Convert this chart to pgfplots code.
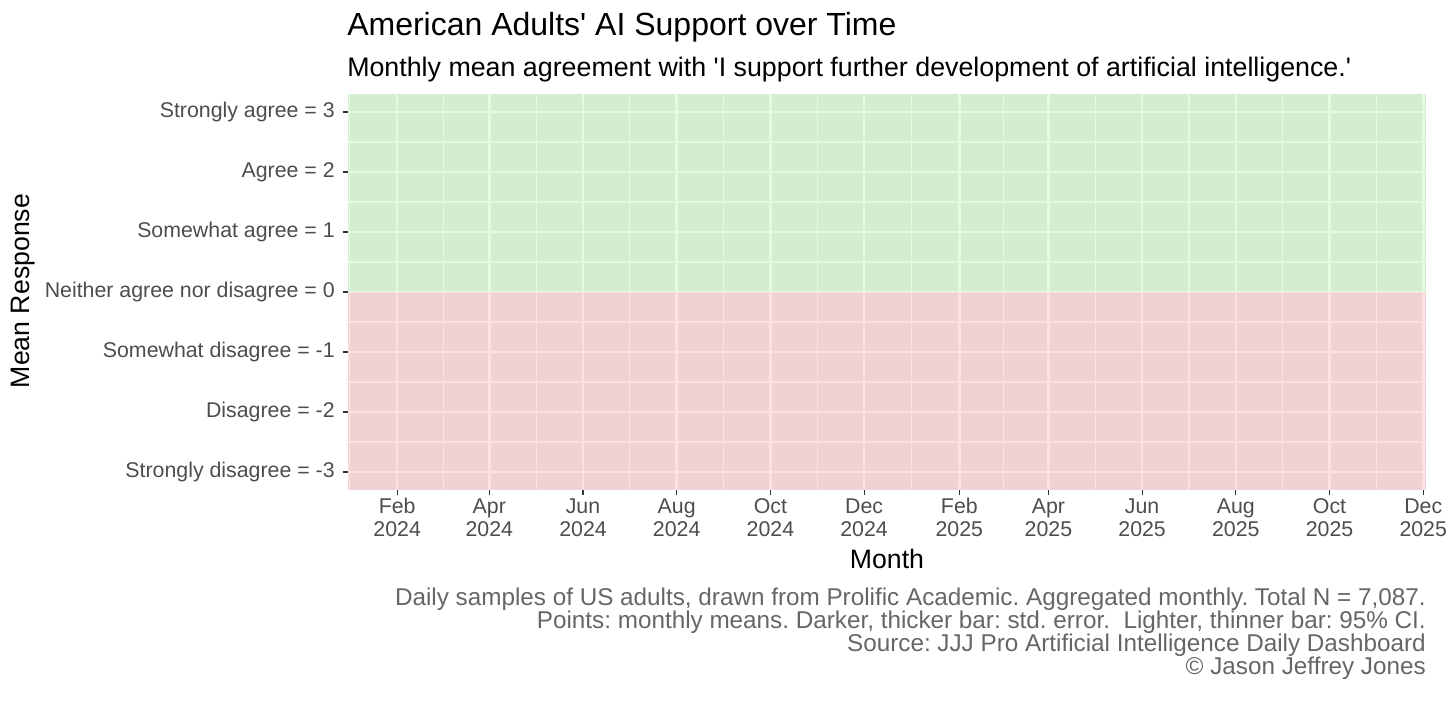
\documentclass[border=0pt]{standalone}
\usepackage{fontspec}
\setmainfont{Liberation Sans}
\usepackage{pgfplots}
\pgfplotsset{compat=1.18}
\frenchspacing

\definecolor{panelbg}{RGB}{235,235,235}
\definecolor{agreefill}{RGB}{158,242,158}
\definecolor{disagreefill}{RGB}{248,155,162}
\definecolor{ticktext}{RGB}{77,77,77}
\definecolor{tickmark}{RGB}{51,51,51}
\definecolor{captext}{RGB}{102,102,102}

\newcommand{\tl}[2]{\strut #1\\\strut #2}

\begin{document}
\begin{tikzpicture}
% page = 1456 x 703 px, 1 px = 0.75pt, origin at lower left of panel (px 348,490)
\path[use as bounding box] (-261pt,-159.75pt) rectangle (831pt,367.5pt);

\begin{axis}[
    at={(0,0)}, anchor=south west,
    scale only axis,
    width=808.5pt, height=297pt,
    xmin=-1, xmax=700.8,
    ymin=-3.3, ymax=3.3,
    axis background/.style={fill=panelbg},
    axis line style={draw=none},
    xtick pos=bottom, ytick pos=left,
    tick align=outside,
    major tick length=3.75pt,
    minor tick length=0pt,
    tick style={color=tickmark, line width=0.8pt},
    % days since 1 Jan 2024
    xtick={31,91,152,213,274,335,397,455,516,577,638,699},
    xticklabels={\tl{Feb}{2024},\tl{Apr}{2024},\tl{Jun}{2024},\tl{Aug}{2024},
                 \tl{Oct}{2024},\tl{Dec}{2024},\tl{Feb}{2025},\tl{Apr}{2025},
                 \tl{Jun}{2025},\tl{Aug}{2025},\tl{Oct}{2025},\tl{Dec}{2025}},
    minor xtick={0,61,121.5,182.5,243.5,304.5,366,426,485.5,546.5,607.5,668.5},
    ytick={-3,-2,-1,0,1,2,3},
    yticklabels={Strongly disagree = -3,Disagree = -2,Somewhat disagree = -1,
                 Neither agree nor disagree = 0,Somewhat agree = 1,Agree = 2,
                 Strongly agree = 3},
    minor ytick={-2.5,-1.5,-0.5,0.5,1.5,2.5},
    xticklabel style={font=\fontsize{16pt}{17.25pt}\selectfont, text=ticktext,
                      align=center, inner sep=0pt, yshift=-1.5pt},
    yticklabel style={font=\fontsize{16pt}{19pt}\selectfont, text=ticktext,
                      inner sep=1pt, xshift=-5pt},
    grid=both,
    major grid style={white, line width=1.9pt},
    minor grid style={white, line width=0.9pt},
]
% agreement half
\addplot[draw=none, fill=agreefill, fill opacity=0.3]
    coordinates {(-1,0) (700.8,0) (700.8,3.3) (-1,3.3)} -- cycle;
% disagreement half
\addplot[draw=none, fill=disagreefill, fill opacity=0.3]
    coordinates {(-1,-3.3) (700.8,-3.3) (700.8,0) (-1,0)} -- cycle;
\end{axis}

\node[anchor=base west, inner sep=0, font=\fontsize{24pt}{28pt}\selectfont]
    at (-0.75pt,340.5pt) {American Adults\textquotesingle{} AI Support over Time};
\node[anchor=base west, inner sep=0, font=\fontsize{20.1pt}{24pt}\selectfont]
    at (-0.75pt,309.75pt) {Monthly mean agreement with \textquotesingle I support further development of artificial intelligence.\textquotesingle};

\node[anchor=base, inner sep=0, font=\fontsize{20pt}{24pt}\selectfont]
    at (404.25pt,-58.5pt) {Month};
\node[rotate=90, inner sep=0, font=\fontsize{20pt}{24pt}\selectfont]
    at (-243.75pt,149.25pt) {Mean Response};

\begin{scope}[every node/.style={anchor=base east, inner sep=0, text=captext,
              font=\fontsize{18.2pt}{21pt}\selectfont}]
\node at (808.5pt,-86.25pt) {Daily samples of US adults, drawn from Prolific Academic. Aggregated monthly. Total N = 7,087.};
\node at (808.5pt,-103.5pt) {Points: monthly means. Darker, thicker bar: std. error.\ \ Lighter, thinner bar: 95\% CI.};
\node at (808.5pt,-120.75pt) {Source: JJJ Pro Artificial Intelligence Daily Dashboard};
\node at (808.5pt,-138pt) {© Jason Jeffrey Jones};
\end{scope}
\end{tikzpicture}
\end{document}
